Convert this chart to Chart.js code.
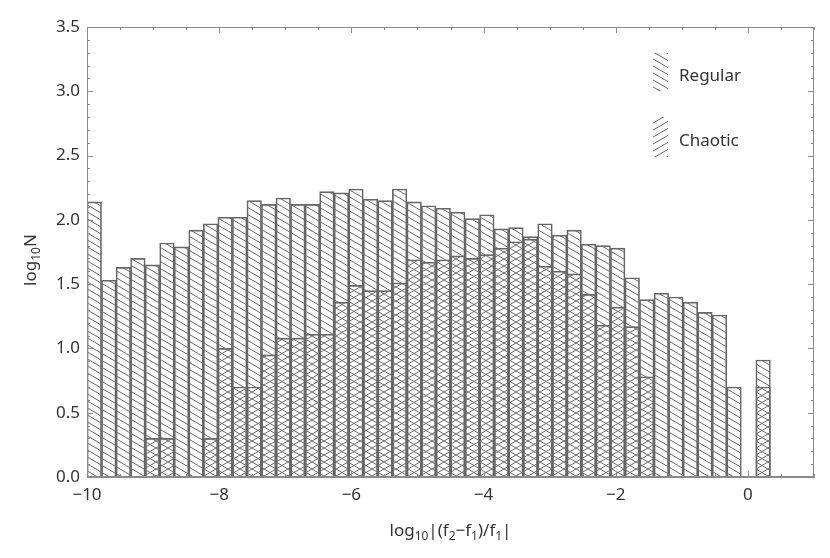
<!DOCTYPE html>
<html>
<head>
<meta charset="utf-8">
<script src="https://cdn.jsdelivr.net/npm/chart.js@4.4.1/dist/chart.umd.min.js"></script>
<style>
html,body{margin:0;padding:0;background:#ffffff;}
#wrap{width:830px;height:558px;}
</style>
</head>
<body>
<div id="wrap"><canvas id="c" width="830" height="558"></canvas></div>
<script>
// ---- data (bin centres of log10|(f2-f1)/f1|, bin width 0.22) ----
const binCenters = [-9.89,-9.67,-9.45,-9.23,-9.01,-8.79,-8.57,-8.35,-8.13,-7.91,
                    -7.69,-7.47,-7.25,-7.03,-6.81,-6.59,-6.37,-6.15,-5.93,-5.71,
                    -5.49,-5.27,-5.05,-4.83,-4.61,-4.39,-4.17,-3.95,-3.73,-3.51,
                    -3.29,-3.07,-2.85,-2.63,-2.41,-2.19,-1.97,-1.75,-1.53,-1.31,
                    -1.09,-0.87,-0.65,-0.43,-0.21,0.01,0.23,0.45,0.67,0.89];
const regular = [2.14,1.53,1.63,1.70,1.65,1.82,1.79,1.92,1.97,2.02,
                 2.02,2.15,2.12,2.17,2.12,2.12,2.22,2.21,2.24,2.16,
                 2.15,2.24,2.14,2.11,2.09,2.06,2.01,2.04,1.93,1.94,
                 1.87,1.97,1.88,1.92,1.81,1.80,1.78,1.55,1.38,1.43,
                 1.40,1.36,1.28,1.26,0.70,0,0.91,0,0,0];
const chaotic = [0,0,0,0,0.30,0.30,0,0,0.30,1.00,
                 0.70,0.70,0.95,1.08,1.08,1.11,1.11,1.36,1.49,1.45,
                 1.45,1.51,1.69,1.67,1.69,1.72,1.70,1.73,1.78,1.83,
                 1.85,1.64,1.60,1.58,1.42,1.18,1.32,1.17,0.78,0,
                 0,0,0,0,0,0,0.70,0,0,0];
const seriesNames = ['Regular','Chaotic'];
const xTicks = [-10,-8,-6,-4,-2,0];
const yTicks = [0,0.5,1.0,1.5,2.0,2.5,3.0,3.5];
// axis titles as [text, isSubscript] runs
const xTitle = [['log',0],['10',1],['|(f',0],['2',1],['\u2212f',0],['1',1],[')/f',0],['1',1],['|',0]];
const yTitle = [['log',0],['10',1],['N',0]];

// ---- hatch patterns ----
function makeHatch(dir){
  const w = 12, h = 7;
  const c = document.createElement('canvas');
  c.width = w; c.height = h;
  const g = c.getContext('2d');
  g.strokeStyle = '#6a6a6a';
  g.lineWidth = 1;
  for (let k = -1; k <= 2; k++){
    g.beginPath();
    if (dir > 0){ // "\" descending to the right
      g.moveTo(-2, -2*h/w + k*h);
      g.lineTo(w+2, (w+2)*h/w + k*h);
    } else {      // "/" rising to the right
      g.moveTo(-2, 2*h/w + k*h);
      g.lineTo(w+2, -(w+2)*h/w + k*h);
    }
    g.stroke();
  }
  return g.createPattern(c, 'repeat');
}
const patRegular = makeHatch(1);
const patChaotic = makeHatch(-1);

const FONT = "'Noto Sans', 'Open Sans', 'DejaVu Sans', sans-serif";
const fmtMinus = v => (v < 0 ? '\u2212' : '') + Math.abs(v);

function toPoints(vals){
  return binCenters.map((x, i) => ({x: x, y: vals[i] > 0 ? vals[i] : null}));
}

// ---- frame + inward ticks ----
const framePlugin = {
  id: 'frame',
  afterDraw(chart){
    const {ctx, chartArea: a, scales: {x, y}} = chart;
    ctx.save();
    ctx.strokeStyle = '#8a8a8a';
    ctx.lineWidth = 1;
    ctx.strokeRect(a.left + 0.5, a.top + 0.5, a.right - a.left - 1, a.bottom - a.top - 1);
    ctx.beginPath();
    for (let i = 0; i <= 22; i++){
      const v = x.min + i*0.5;
      if (v > x.max) break;
      const px = Math.round(x.getPixelForValue(v)) + 0.5;
      const len = (Math.abs(v % 2) < 1e-9) ? 6 : 3;
      ctx.moveTo(px, a.bottom); ctx.lineTo(px, a.bottom - len);
      ctx.moveTo(px, a.top); ctx.lineTo(px, a.top + len);
    }
    for (let i = 0; i <= 35; i++){
      const v = i*0.1;
      const py = Math.round(y.getPixelForValue(v)) + 0.5;
      const len = (i % 5 === 0) ? 6 : 3;
      ctx.moveTo(a.left, py); ctx.lineTo(a.left + len, py);
      ctx.moveTo(a.right, py); ctx.lineTo(a.right - len, py);
    }
    ctx.stroke();
    ctx.restore();
  }
};

// ---- axis titles with real subscripts ----
function drawRuns(ctx, runs, cx, cy){
  const big = "17px " + FONT, small = "12px " + FONT;
  let total = 0;
  runs.forEach(([t, s]) => { ctx.font = s ? small : big; total += ctx.measureText(t).width; });
  let x = cx - total/2;
  ctx.textAlign = 'left';
  ctx.textBaseline = 'alphabetic';
  runs.forEach(([t, s]) => {
    ctx.font = s ? small : big;
    ctx.fillText(t, x, cy + (s ? 4 : 0));
    x += ctx.measureText(t).width;
  });
}
const titlePlugin = {
  id: 'axisTitles',
  afterDraw(chart){
    const {ctx, chartArea: a} = chart;
    ctx.save();
    ctx.fillStyle = '#333';
    drawRuns(ctx, xTitle, (a.left + a.right)/2, a.bottom + 59);
    ctx.translate(36, (a.top + a.bottom)/2 + 8);
    ctx.rotate(-Math.PI/2);
    drawRuns(ctx, yTitle, 0, 0);
    ctx.restore();
  }
};

// ---- in-plot legend ----
const legendPlugin = {
  id: 'hatchLegend',
  afterDraw(chart){
    const {ctx, chartArea: a} = chart;
    const items = chart.data.datasets;
    const sx = a.right - 161, sw = 15;
    const tops = [a.top + 26, a.top + 90];
    const hs = [38, 40];
    ctx.save();
    items.forEach((ds, i) => {
      ctx.fillStyle = ds.backgroundColor;
      ctx.fillRect(sx, tops[i], sw, hs[i]);
      ctx.fillStyle = '#333';
      ctx.font = "17px " + FONT;
      ctx.textBaseline = 'middle';
      ctx.textAlign = 'left';
      ctx.fillText(ds.label, sx + 26, tops[i] + hs[i]/2 + 4);
    });
    ctx.restore();
  }
};

new Chart(document.getElementById('c').getContext('2d'), {
  type: 'bar',
  data: {
    datasets: [
      {label: seriesNames[0], data: toPoints(regular), backgroundColor: patRegular,
       borderColor: '#666666', borderWidth: 1, barPercentage: 1, categoryPercentage: 1,
       grouped: false, borderSkipped: 'start'},
      {label: seriesNames[1], data: toPoints(chaotic), backgroundColor: patChaotic,
       borderColor: '#666666', borderWidth: 1, barPercentage: 1, categoryPercentage: 1,
       grouped: false, borderSkipped: 'start'}
    ]
  },
  options: {
    responsive: false,
    animation: false,
    devicePixelRatio: 1,
    layout: {padding: {left: 0, top: 27, right: 16, bottom: 0}},
    plugins: {legend: {display: false}, tooltip: {enabled: false}},
    scales: {
      x: {
        type: 'linear', min: -10, max: 1, offset: false,
        grid: {display: false, drawTicks: false},
        border: {display: true, color: '#8a8a8a'},
        afterBuildTicks: s => { s.ticks = xTicks.map(v => ({value: v})); },
        afterFit: s => { s.height = 81; },
        ticks: {padding: 8, maxRotation: 0, autoSkip: false, color: '#333',
                font: {family: FONT, size: 17}, callback: v => fmtMinus(v)},
        title: {display: false}
      },
      y: {
        type: 'linear', min: 0, max: 3.5,
        grid: {display: false, drawTicks: false},
        border: {display: true, color: '#8a8a8a'},
        afterBuildTicks: s => { s.ticks = yTicks.map(v => ({value: v})); },
        afterFit: s => { s.width = 87; },
        ticks: {padding: 7, autoSkip: false, color: '#333',
                font: {family: FONT, size: 17}, callback: v => Number(v).toFixed(1)},
        title: {display: false}
      }
    }
  },
  plugins: [framePlugin, titlePlugin, legendPlugin]
});
</script>
</body>
</html>
